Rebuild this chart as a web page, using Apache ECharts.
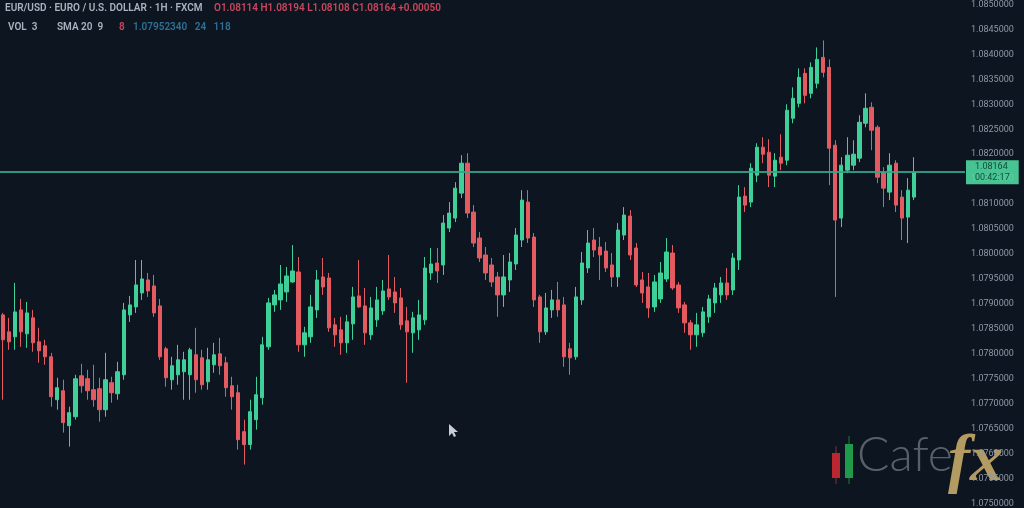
<!DOCTYPE html>
<html>
<head>
<meta charset="utf-8">
<title>EURUSD 1H</title>
<script src="https://cdn.jsdelivr.net/npm/echarts@6/dist/echarts.min.js"></script>
<style>
  html, body { margin: 0; padding: 0; background: #0d1620; }
  #main { width: 1024px; height: 508px; }
</style>
</head>
<body>
<div id="main"></div>
<script>
// candle values, oldest first
const opens = [
  1.07878, 1.07844, 1.07834, 1.07888, 1.07840, 1.07872, 1.07824, 1.07816, 1.07794, 1.07708,
  1.07726, 1.07656, 1.07674, 1.07756, 1.07750, 1.07728, 1.07730, 1.07688, 1.07742, 1.07720,
  1.07758, 1.07878, 1.07894, 1.07922, 1.07948, 1.07936, 1.07896, 1.07810, 1.07748, 1.07758,
  1.07764, 1.07758, 1.07798, 1.07792, 1.07744, 1.07778, 1.07800, 1.07782, 1.07736, 1.07722,
  1.07644, 1.07618, 1.07668, 1.07712, 1.07814, 1.07898, 1.07908, 1.07924, 1.07944, 1.07964,
  1.07818, 1.07834, 1.07888, 1.07954, 1.07952, 1.07858, 1.07848, 1.07822, 1.07860, 1.07916,
  1.07896, 1.07838, 1.07868, 1.07886, 1.07930, 1.07924, 1.07912, 1.07866, 1.07842, 1.07848,
  1.07868, 1.07962, 1.07982, 1.07978, 1.08052, 1.08072, 1.08122, 1.08182, 1.08084, 1.08032,
  1.07998, 1.07978, 1.07954, 1.07918, 1.07948, 1.07980, 1.08028, 1.08104, 1.08034, 1.07914,
  1.07844, 1.07888, 1.07908, 1.07898, 1.07810, 1.07794, 1.07908, 1.07972, 1.08028, 1.08014,
  1.08006, 1.07978, 1.07954, 1.08038, 1.08076, 1.08012, 1.07948, 1.07934, 1.07894, 1.07910,
  1.07950, 1.08002, 1.07938, 1.07898, 1.07862, 1.07838, 1.07842, 1.07874, 1.07902, 1.07918,
  1.07942, 1.07928, 1.07988, 1.08116, 1.08104, 1.08158, 1.08214, 1.08204, 1.08156, 1.08194,
  1.08188, 1.08272, 1.08302, 1.08362, 1.08322, 1.08342, 1.08394, 1.08374, 1.08218, 1.08072,
  1.08168, 1.08178, 1.08192, 1.08262, 1.08294, 1.08254, 1.08164, 1.08124, 1.08182, 1.08114,
  1.08074, 1.08114
];
const closes = [
  1.07828, 1.07824, 1.07884, 1.07844, 1.07882, 1.07822, 1.07806, 1.07794, 1.07714, 1.07732,
  1.07662, 1.07682, 1.07750, 1.07736, 1.07726, 1.07708, 1.07688, 1.07748, 1.07722, 1.07764,
  1.07888, 1.07898, 1.07938, 1.07950, 1.07926, 1.07882, 1.07794, 1.07752, 1.07776, 1.07788,
  1.07788, 1.07808, 1.07748, 1.07738, 1.07788, 1.07798, 1.07776, 1.07732, 1.07714, 1.07628,
  1.07618, 1.07684, 1.07718, 1.07818, 1.07902, 1.07918, 1.07940, 1.07956, 1.07966, 1.07818,
  1.07842, 1.07894, 1.07948, 1.07934, 1.07852, 1.07838, 1.07822, 1.07864, 1.07914, 1.07894,
  1.07842, 1.07892, 1.07908, 1.07926, 1.07914, 1.07902, 1.07858, 1.07844, 1.07872, 1.07878,
  1.07972, 1.07980, 1.07966, 1.08062, 1.08082, 1.08132, 1.08182, 1.08082, 1.08022, 1.07992,
  1.07962, 1.07944, 1.07918, 1.07954, 1.07984, 1.08038, 1.08108, 1.08032, 1.07908, 1.07844,
  1.07892, 1.07908, 1.07888, 1.07794, 1.07792, 1.07914, 1.07982, 1.08022, 1.08008, 1.07998,
  1.07972, 1.07954, 1.08048, 1.08078, 1.07998, 1.07938, 1.07922, 1.07892, 1.07944, 1.07962,
  1.08004, 1.07932, 1.07892, 1.07862, 1.07838, 1.07858, 1.07884, 1.07910, 1.07932, 1.07942,
  1.07918, 1.07992, 1.08114, 1.08098, 1.08172, 1.08214, 1.08200, 1.08158, 1.08188, 1.08182,
  1.08288, 1.08312, 1.08354, 1.08318, 1.08374, 1.08390, 1.08364, 1.08212, 1.08068, 1.08178,
  1.08198, 1.08200, 1.08264, 1.08292, 1.08248, 1.08154, 1.08132, 1.08178, 1.08098, 1.08072,
  1.08128, 1.08164
];
const lows = [
  1.07708, 1.07808, 1.07808, 1.07814, 1.07812, 1.07804, 1.07782, 1.07778, 1.07694, 1.07688,
  1.07642, 1.07614, 1.07668, 1.07722, 1.07708, 1.07694, 1.07664, 1.07674, 1.07702, 1.07708,
  1.07748, 1.07864, 1.07882, 1.07908, 1.07914, 1.07874, 1.07788, 1.07734, 1.07728, 1.07738,
  1.07708, 1.07708, 1.07722, 1.07728, 1.07728, 1.07762, 1.07758, 1.07714, 1.07688, 1.07608,
  1.07578, 1.07608, 1.07648, 1.07698, 1.07808, 1.07884, 1.07888, 1.07904, 1.07942, 1.07804,
  1.07794, 1.07822, 1.07872, 1.07918, 1.07844, 1.07814, 1.07798, 1.07802, 1.07828, 1.07892,
  1.07818, 1.07828, 1.07854, 1.07878, 1.07908, 1.07882, 1.07848, 1.07742, 1.07802, 1.07828,
  1.07858, 1.07948, 1.07942, 1.07958, 1.08044, 1.08064, 1.08112, 1.08072, 1.08014, 1.07984,
  1.07948, 1.07934, 1.07874, 1.07894, 1.07924, 1.07968, 1.08014, 1.08022, 1.07894, 1.07822,
  1.07838, 1.07872, 1.07874, 1.07774, 1.07758, 1.07788, 1.07898, 1.07962, 1.07994, 1.07948,
  1.07964, 1.07934, 1.07934, 1.08028, 1.07988, 1.07934, 1.07902, 1.07872, 1.07884, 1.07902,
  1.07944, 1.07928, 1.07882, 1.07842, 1.07808, 1.07814, 1.07834, 1.07862, 1.07882, 1.07902,
  1.07908, 1.07918, 1.07968, 1.08084, 1.08094, 1.08144, 1.08182, 1.08134, 1.08134, 1.08168,
  1.08178, 1.08262, 1.08294, 1.08302, 1.08312, 1.08332, 1.08354, 1.08138, 1.07914, 1.08054,
  1.08162, 1.08168, 1.08184, 1.08254, 1.08208, 1.08142, 1.08094, 1.08108, 1.08084, 1.08028,
  1.08022, 1.08108
];
const highs = [
  1.07882, 1.07872, 1.07942, 1.07910, 1.07904, 1.07888, 1.07852, 1.07828, 1.07802, 1.07752,
  1.07748, 1.07694, 1.07758, 1.07780, 1.07768, 1.07778, 1.07752, 1.07802, 1.07754, 1.07784,
  1.07902, 1.07916, 1.07988, 1.07988, 1.07962, 1.07958, 1.07910, 1.07814, 1.07794, 1.07818,
  1.07804, 1.07812, 1.07852, 1.07808, 1.07812, 1.07822, 1.07832, 1.07794, 1.07754, 1.07738,
  1.07668, 1.07708, 1.07754, 1.07834, 1.07912, 1.07928, 1.07978, 1.07974, 1.08018, 1.07994,
  1.07854, 1.07918, 1.07968, 1.07992, 1.07962, 1.07872, 1.07874, 1.07878, 1.07934, 1.07988,
  1.07932, 1.07914, 1.07934, 1.07948, 1.07998, 1.07954, 1.07932, 1.07894, 1.07884, 1.07908,
  1.07994, 1.08012, 1.08012, 1.08078, 1.08104, 1.08144, 1.08198, 1.08202, 1.08098, 1.08044,
  1.08014, 1.07992, 1.07964, 1.07998, 1.08002, 1.08052, 1.08128, 1.08128, 1.08042, 1.07918,
  1.07922, 1.07928, 1.07944, 1.07914, 1.07822, 1.07934, 1.08004, 1.08048, 1.08052, 1.08034,
  1.08024, 1.08002, 1.08062, 1.08094, 1.08088, 1.08022, 1.07964, 1.07962, 1.07958, 1.07984,
  1.08032, 1.08018, 1.07944, 1.07904, 1.07868, 1.07882, 1.07894, 1.07918, 1.07942, 1.07954,
  1.07972, 1.08002, 1.08138, 1.08134, 1.08182, 1.08222, 1.08234, 1.08230, 1.08202, 1.08240,
  1.08300, 1.08334, 1.08372, 1.08372, 1.08384, 1.08414, 1.08428, 1.08390, 1.08228, 1.08194,
  1.08234, 1.08228, 1.08278, 1.08322, 1.08304, 1.08258, 1.08174, 1.08202, 1.08188, 1.08128,
  1.08152, 1.08194
];

// hourly bars
const times = [];
const start = Date.UTC(2024, 2, 4, 0, 0);
for (let i = 0; i < opens.length; i++) {
  const d = new Date(start + i * 3600 * 1000);
  times.push(d.toISOString().slice(0, 16).replace('T', ' '));
}

const symbolText = 'EUR/USD · EURO / U.S. DOLLAR · 1H · FXCM';
const ohlcText = 'O1.08114 H1.08194 L1.08108 C1.08164 +0.00050';
const countdown = '00:42:17';

const UP = '#3fcf98';
const DOWN = '#e35a60';

var chart = echarts.init(document.getElementById('main'));

var candles = opens.map(function (o, i) {
  return [o, closes[i], lows[i], highs[i]];
});
var last = closes[closes.length - 1];

var option = {
  backgroundColor: '#0d1620',
  animation: false,
  grid: {
    left: 0,
    right: 59,
    top: 4,
    bottom: 4
  },
  xAxis: {
    type: 'category',
    data: times,
    max: 159,
    boundaryGap: true,
    axisLine: { show: false },
    axisTick: { show: false },
    axisLabel: { show: false },
    splitLine: { show: false }
  },
  yAxis: {
    type: 'value',
    position: 'right',
    min: 1.075,
    max: 1.085,
    interval: 0.0005,
    axisLine: { show: false },
    axisTick: { show: false },
    splitLine: { show: false },
    axisLabel: {
      color: '#8e98a6',
      fontSize: 9,
      fontFamily: 'Roboto',
      margin: 6,
      formatter: function (v) { return v.toFixed(7); }
    }
  },
  series: [
    {
      type: 'candlestick',
      data: candles,
      barWidth: '62%',
      itemStyle: {
        color: UP,
        color0: DOWN,
        borderColor: UP,
        borderColor0: DOWN,
        borderWidth: 1
      },
      markLine: {
        silent: true,
        symbol: 'none',
        precision: 5,
        z: 10,
        lineStyle: { color: '#34a388', width: 2, type: 'solid', opacity: 0.9 },
        label: {
          position: 'end',
          distance: 1,
          backgroundColor: '#4fd6a0',
          color: '#0c3a2b',
          fontSize: 9,
          fontFamily: 'Roboto',
          lineHeight: 11,
          padding: [1, 9],
          formatter: function (p) { return p.value.toFixed(5) + '\n' + countdown; }
        },
        data: [{ yAxis: last }]
      }
    }
  ],
  graphic: [
    {
      type: 'text', left: 5, top: 3,
      style: { text: symbolText, fill: '#a9b3bf', font: '600 10px Roboto' }
    },
    {
      type: 'text', left: 214, top: 3,
      style: { text: ohlcText, fill: '#c9465c', font: '600 10px Roboto' }
    },
    {
      type: 'text', left: 8, top: 22,
      style: { text: 'VOL  3', fill: '#a9b3bf', font: '600 10px Roboto' }
    },
    {
      type: 'text', left: 57, top: 22,
      style: { text: 'SMA 20  9', fill: '#a9b3bf', font: '600 10px Roboto' }
    },
    {
      type: 'text', left: 119, top: 22,
      style: { text: '8', fill: '#c9465c', font: '600 10px Roboto' }
    },
    {
      type: 'text', left: 133, top: 22,
      style: { text: '1.07952340   24   118', fill: '#2f6f95', font: '600 10px Roboto' }
    },
    // mouse pointer
    {
      type: 'polygon',
      shape: { points: [[449, 424], [449, 436], [452, 433], [454, 437], [456, 436], [454, 432], [458, 432]] },
      style: { fill: '#c9ced6' }
    },
    // watermark logo
    {
      type: 'group', silent: true,
      children: [
        { type: 'line', shape: { x1: 836, y1: 446, x2: 836, y2: 484 }, style: { stroke: '#8c2a2e', lineWidth: 1 } },
        { type: 'rect', shape: { x: 832, y: 453, width: 8, height: 25 }, style: { fill: '#b8282e' } },
        { type: 'line', shape: { x1: 849, y1: 436, x2: 849, y2: 484 }, style: { stroke: '#1b7a3e', lineWidth: 1 } },
        { type: 'rect', shape: { x: 845, y: 444, width: 8, height: 34 }, style: { fill: '#1f9a4b' } },
        {
          type: 'text', left: 857, top: 432,
          style: { text: 'Cafe', fill: 'rgba(150,158,168,0.55)', font: '300 48px Lato' }
        },
        {
          type: 'text', left: 948, top: 430,
          style: { text: 'fx', fill: '#b39b62', font: 'italic bold 66px "Liberation Serif"' }
        }
      ]
    }
  ]
};

chart.setOption(option);
</script>
</body>
</html>
